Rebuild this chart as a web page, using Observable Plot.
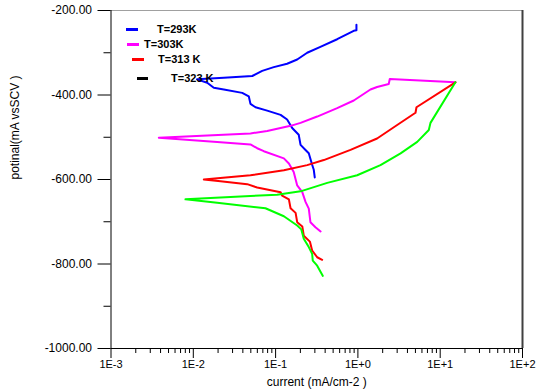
<!DOCTYPE html>
<html>
<head>
<meta charset="utf-8">
<script src="https://cdn.jsdelivr.net/npm/d3@7"></script>
<script src="https://cdn.jsdelivr.net/npm/@observablehq/plot@0.6"></script>
<style>
  body { margin: 0; background: #fff; }
  #wrap { position: relative; width: 537px; height: 389px; font-family: "Liberation Sans", Arial, sans-serif; }
  .leg { position: absolute; font-weight: bold; font-size: 11px; color: #000; white-space: nowrap; line-height: 12px; }
  .sw { position: absolute; height: 3px; }
</style>
</head>
<body>
<div id="wrap"></div>
<script>
// ---- Data (current in mA/cm2, potential in mV vs SCE) ----
const seriesNames = ["T=293K", "T=303K", "T=313 K", "T=323 K"];
const seriesColors = ["#0000ff", "#ff00ff", "#ff0000", "#00ff00"];
const legendColors = ["#0000ff", "#ff00ff", "#ff0000", "#000000"];

const t293Current = [0.96, 0.96, 0.89, 0.56, 0.35, 0.242, 0.183, 0.138, 0.095, 0.0687, 0.052, 0.0235, 0.0111, 0.01476, 0.01774, 0.0235, 0.0393, 0.0472, 0.0495, 0.057, 0.079, 0.115, 0.138, 0.159, 0.191, 0.201, 0.231, 0.253, 0.278, 0.291, 0.299];
const t293Potential = [-234, -247, -248, -268, -286, -300, -316, -326, -334, -343, -355, -359, -363, -371, -383, -387, -395, -403, -421, -429, -437, -447, -458, -478, -494, -518, -530, -538, -565, -577, -595];

const t303Current = [15.3, 2.44, 2.37, 1.71, 1.42, 0.891, 0.56, 0.32, 0.201, 0.152, 0.079, 0.0495, 0.00381, 0.0195, 0.0495, 0.0597, 0.0719, 0.126, 0.145, 0.166, 0.183, 0.211, 0.231, 0.253, 0.265, 0.305, 0.352];
const t303Potential = [-370, -362, -374, -381, -387, -413, -431, -451, -466, -473, -485, -491, -501, -511, -517, -526, -533, -550, -562, -582, -614, -630, -653, -669, -701, -713, -723];

const t313Current = [15.3, 5.15, 5.01, 3.0, 1.71, 0.813, 0.385, 0.242, 0.126, 0.0495, 0.01342, 0.0214, 0.0452, 0.0597, 0.115, 0.120, 0.145, 0.152, 0.175, 0.183, 0.211, 0.220, 0.261, 0.278, 0.320, 0.368];
const t313Potential = [-370, -429, -442, -471, -503, -530, -554, -566, -578, -590, -600, -604, -611, -619, -630, -638, -647, -668, -679, -701, -711, -733, -747, -768, -784, -790];

const t323Current = [15.3, 7.62, 7.27, 5.26, 3.30, 1.88, 0.98, 0.424, 0.201, 0.1045, 0.0495, 0.00803, 0.0195, 0.0753, 0.126, 0.183, 0.205, 0.220, 0.253, 0.278, 0.283, 0.320, 0.374];
const t323Potential = [-370, -466, -483, -511, -538, -566, -590, -608, -628, -636, -639, -647, -655, -668, -687, -709, -718, -740, -760, -776, -792, -804, -828];

// ---- Axes ----
const xDomain = [1e-3, 1e2];
const yDomain = [-1000, -200];
const xMajorTicks = [1e-3, 1e-2, 1e-1, 1e0, 1e1, 1e2];
const xTickLabels = ["1E-3", "1E-2", "1E-1", "1E+0", "1E+1", "1E+2"];
const xMinorMultipliers = [2, 3, 4, 5, 6, 7, 8, 9];
const yMajorTicks = [-200, -400, -600, -800, -1000];
const yTickLabels = ["-200.00", "-400.00", "-600.00", "-800.00", "-1000.00"];
const yMinorTicks = [-300, -500, -700, -900];
const xLabel = "current (mA/cm-2 )";
const yLabel = "potinal(mA vsSCV )";

// ---- Build table ----
const currents = [t293Current, t303Current, t313Current, t323Current];
const potentials = [t293Potential, t303Potential, t313Potential, t323Potential];
const rows = [];
seriesNames.forEach((name, k) => {
  currents[k].forEach((c, i) => rows.push({series: name, current: c, potential: potentials[k][i]}));
});
const xMinorTicks = xMajorTicks.slice(0, -1).flatMap(d => xMinorMultipliers.map(m => d * m));
const xFmt = d => xTickLabels[xMajorTicks.findIndex(t => Math.abs(Math.log10(t) - Math.log10(d)) < 1e-6)];
const yFmt = d => yTickLabels[yMajorTicks.indexOf(d)];

const chart = Plot.plot({
  width: 537,
  height: 389,
  marginLeft: 110.5,
  marginRight: 15,
  marginTop: 10,
  marginBottom: 41,
  style: {fontFamily: "'Liberation Sans', Arial, sans-serif", background: "#fff"},
  x: {type: "log", domain: xDomain, axis: null},
  y: {domain: yDomain, axis: null},
  color: {domain: seriesNames, range: seriesColors},
  marks: [
    Plot.ruleY([yDomain[1]], {stroke: "#a0a0a0", strokeWidth: 1}),
    Plot.ruleX([xDomain[1]], {stroke: "#404040", strokeWidth: 2}),
    Plot.ruleX([xDomain[0]], {stroke: "#000", strokeWidth: 1}),
    Plot.ruleY([yDomain[0]], {stroke: "#000", strokeWidth: 1}),
    Plot.axisY(yMajorTicks, {anchor: "left", tickSize: 13, tickPadding: 6, tickFormat: yFmt, fontSize: 12, label: null, fill: "#000"}),
    Plot.axisY(yMinorTicks, {anchor: "left", tickSize: 7, tickFormat: () => "", label: null}),
    Plot.axisX(xMajorTicks, {anchor: "bottom", tickSize: 10, tickPadding: 2, tickFormat: xFmt, fontSize: 11, label: null, fill: "#000"}),
    Plot.axisX(xMinorTicks, {anchor: "bottom", tickSize: 5, tickFormat: () => "", label: null}),
    Plot.text([xLabel], {frameAnchor: "bottom", dy: 37, lineAnchor: "bottom", fontSize: 12, fill: "#000"}),
    Plot.text([yLabel], {frameAnchor: "left", dx: -96, rotate: -90, fontSize: 12, fill: "#000"}),
    Plot.line(rows, {x: "current", y: "potential", z: "series", stroke: "series", strokeWidth: 2, curve: "linear"})
  ]
});
const wrap = document.getElementById("wrap");
wrap.appendChild(chart);

// ---- Legend overlay ----
const legendLayout = [
  {sx: 126, sw: 12, sy: 28, tx: 157},
  {sx: 127, sw: 12, sy: 43, tx: 144},
  {sx: 132, sw: 12, sy: 58, tx: 158},
  {sx: 137, sw: 11, sy: 77, tx: 171}
];
seriesNames.forEach((name, i) => {
  const L = legendLayout[i];
  const s = document.createElement("div");
  s.className = "sw";
  s.style.left = L.sx + "px"; s.style.top = L.sy + "px"; s.style.width = L.sw + "px";
  s.style.background = legendColors[i];
  wrap.appendChild(s);
  const t = document.createElement("div");
  t.className = "leg";
  t.textContent = name;
  t.style.left = L.tx + "px"; t.style.top = (L.sy - 5) + "px";
  wrap.appendChild(t);
});
</script>
</body>
</html>
